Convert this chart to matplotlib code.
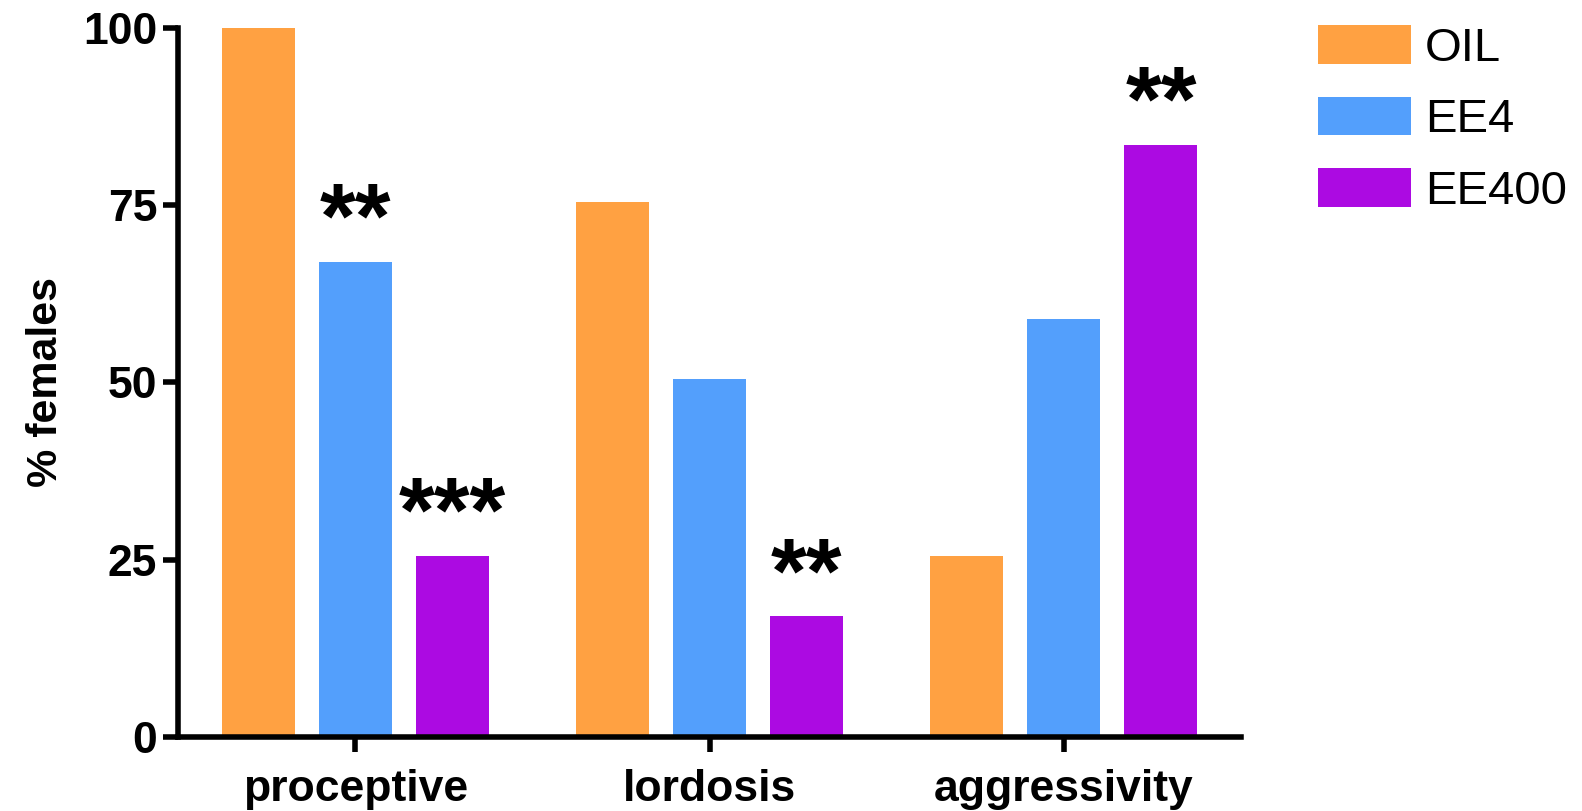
import matplotlib.pyplot as plt
import numpy as np

categories = ["proceptive", "lordosis", "aggressivity"]
groups = ["OIL", "EE4", "EE400"]
oil = [100, 75.5, 25.5]
ee4 = [67, 50.5, 59]
ee400 = [25.5, 17, 83.5]
stars = [["", "**", "***"], ["", "", "**"], ["", "", "**"]]  # per category, per group

colors = ["#ffa142", "#539ffc", "#ac0ae2"]

plt.rcParams['font.family'] = ['Liberation Sans', 'DejaVu Sans']

fig = plt.figure(figsize=(15.82, 8.11), dpi=100)
ax = fig.add_axes([0.1125, 0.0915, 0.672, 0.874])

x = np.arange(len(categories))
step = 0.274
width = 0.206
series = [oil, ee4, ee400]
for j, (vals, c, name) in enumerate(zip(series, colors, groups)):
    pos = x + (j - 1) * step
    ax.bar(pos, vals, width=width, color=c, label=name, zorder=2)
    for i, v in enumerate(vals):
        s = stars[i][j]
        if s:
            ax.text(pos[i], v + 2, s, ha='center', va='baseline', fontsize=66,
                    fontweight='bold', clip_on=False)

ax.set_xlim(-0.5, 2.5)
ax.set_ylim(0, 100)
ax.set_yticks([0, 25, 50, 75, 100])
ax.set_xticks(x)
ax.set_xticklabels(categories)
for sp in ['top', 'right']:
    ax.spines[sp].set_visible(False)
for sp in ['left', 'bottom']:
    ax.spines[sp].set_linewidth(4)
ax.tick_params(width=4, length=11, labelsize=32)
ax.tick_params(axis='x', pad=12)
ax.tick_params(axis='y', pad=4)
for lab in ax.get_xticklabels() + ax.get_yticklabels():
    lab.set_fontweight('bold')
ax.set_ylabel("% females", fontsize=31, fontweight='bold', labelpad=12)

handles, labels = ax.get_legend_handles_labels()
leg = fig.legend(handles, labels, loc='upper left', bbox_to_anchor=(0.818, 0.998),
                 bbox_transform=fig.transFigure, frameon=False, borderpad=0,
                 fontsize=34, handlelength=1.97, handleheight=0.88,
                 handletextpad=0.3, labelspacing=0.55)

fig.savefig("out.png", dpi=100)
